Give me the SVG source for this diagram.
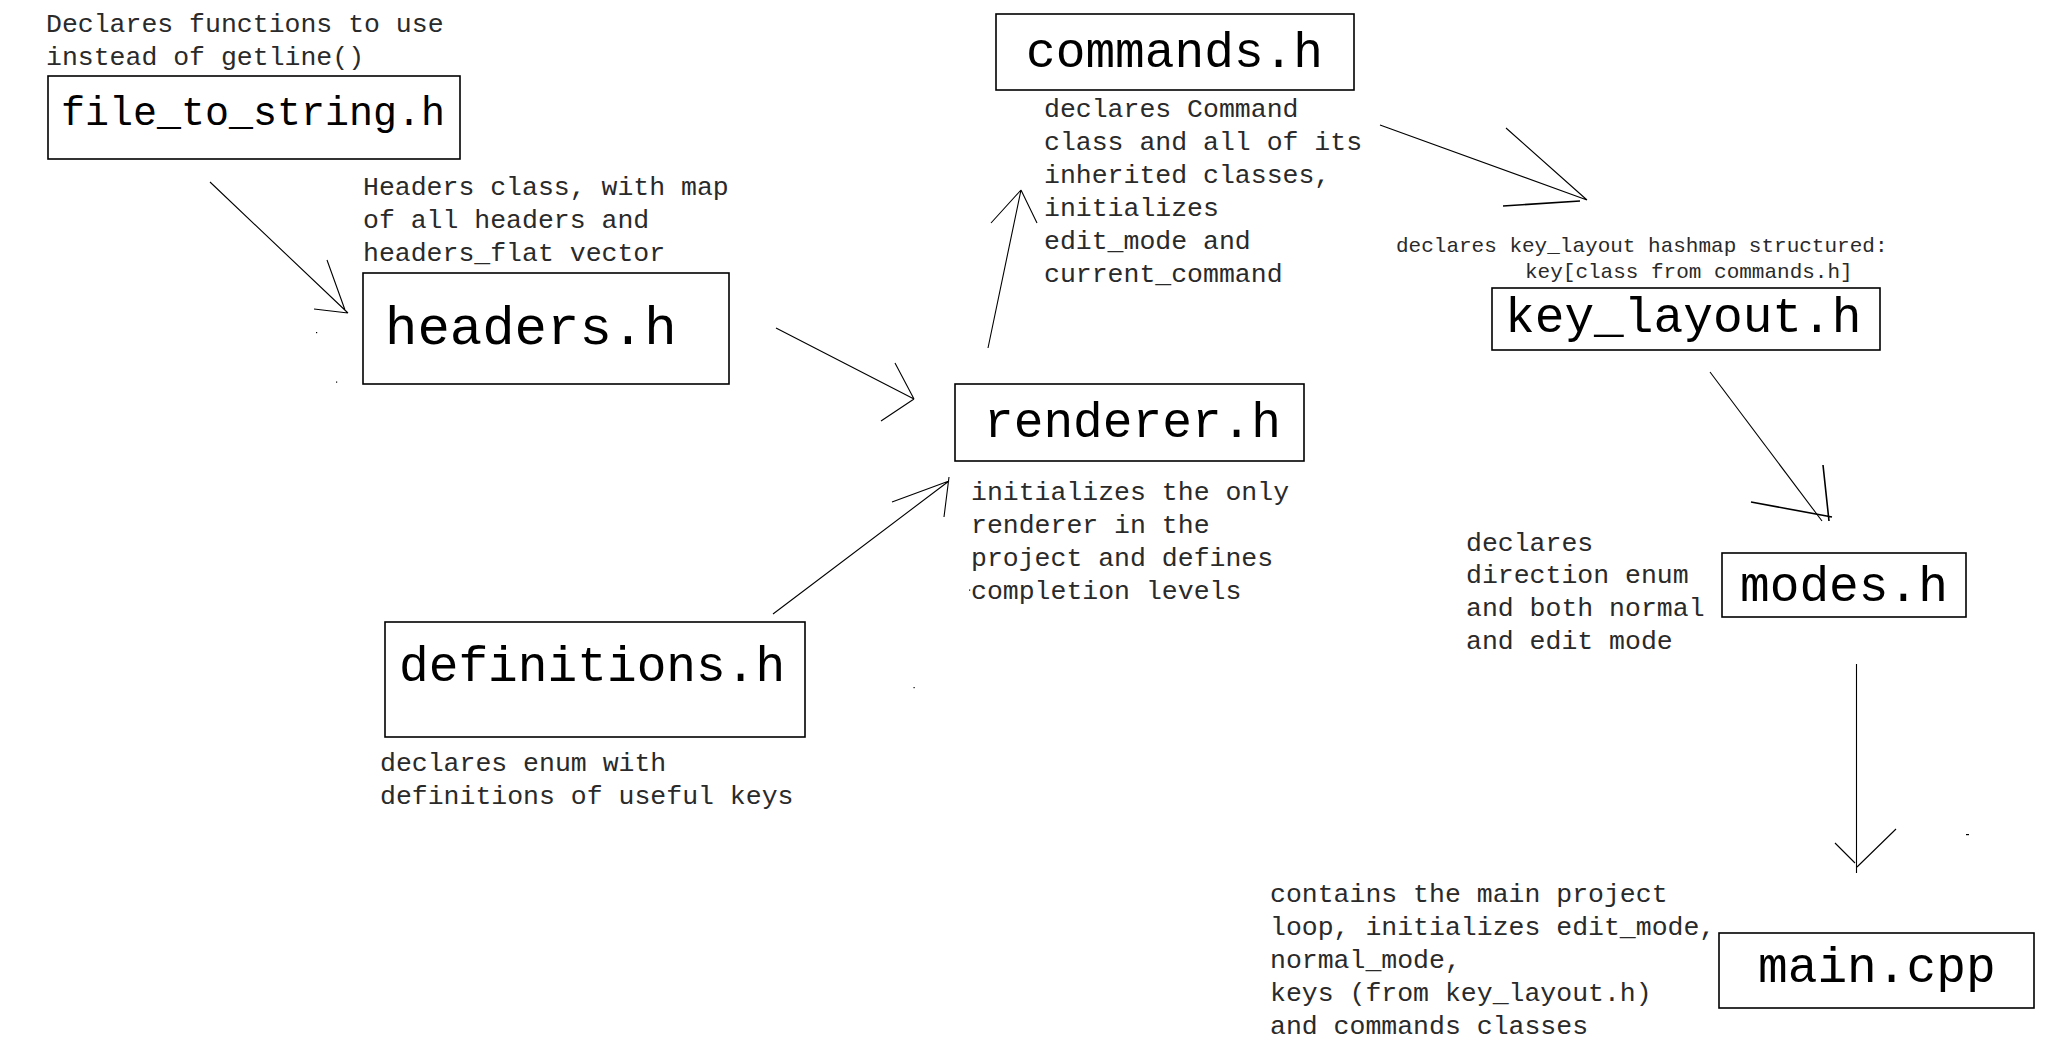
<svg xmlns="http://www.w3.org/2000/svg" width="2054" height="1058" viewBox="0 0 2054 1058">
<style>
.box{fill:#fff;stroke:#000;stroke-width:1.6}
.big{font-family:"Liberation Mono","Courier New",monospace;font-size:49.5px;fill:#000}
.small{font-family:"Liberation Mono","Courier New",monospace;font-size:26.5px;fill:#2a2a2a}
.tiny{font-family:"Liberation Mono","Courier New",monospace;font-size:21px;fill:#2a2a2a}
.ln{stroke:#000;stroke-width:1.1;fill:none}
.lnb{stroke:#000;stroke-width:1.6;fill:none}
</style>
<rect width="2054" height="1058" fill="#fff"/>
<g id="file_to_string">
<text class="small" x="46" y="31.5">Declares functions to use</text>
<text class="small" x="46" y="64.5">instead of getline()</text>
<rect class="box" x="48" y="76" width="412" height="83"/>
<text class="big" x="61" y="124.5" style="font-size:40px">file_to_string.h</text>
</g>
<g id="headers">
<text class="small" x="363" y="194.5">Headers class, with map</text>
<text class="small" x="363" y="227.5">of all headers and</text>
<text class="small" x="363" y="260.5">headers_flat vector</text>
<rect class="box" x="363" y="273" width="366" height="111"/>
<text class="big" x="385" y="343.5" style="font-size:54px">headers.h</text>
</g>
<g id="commands">
<rect class="box" x="996" y="14" width="358" height="76"/>
<text class="big" x="1026" y="67">commands.h</text>
<text class="small" x="1044" y="116.5">declares Command</text>
<text class="small" x="1044" y="149.5">class and all of its</text>
<text class="small" x="1044" y="182.5">inherited classes,</text>
<text class="small" x="1044" y="215.5">initializes</text>
<text class="small" x="1044" y="248.5">edit_mode and</text>
<text class="small" x="1044" y="281.5">current_command</text>
</g>
<g id="key_layout">
<text class="tiny" x="1396" y="252">declares key_layout hashmap structured:</text>
<text class="tiny" x="1525" y="278">key[class from commands.h]</text>
<rect class="box" x="1492" y="288" width="388" height="62"/>
<text class="big" x="1505" y="332">key_layout.h</text>
</g>
<g id="renderer">
<rect class="box" x="955" y="384" width="349" height="77"/>
<text class="big" x="984" y="436.5">renderer.h</text>
<text class="small" x="971" y="499.5">initializes the only</text>
<text class="small" x="971" y="532.5">renderer in the</text>
<text class="small" x="971" y="565.5">project and defines</text>
<text class="small" x="971" y="598.5">completion levels</text>
</g>
<g id="definitions">
<rect class="box" x="385" y="622" width="420" height="115"/>
<text class="big" x="399" y="680.5">definitions.h</text>
<text class="small" x="380" y="770.5">declares enum with</text>
<text class="small" x="380" y="803.5">definitions of useful keys</text>
</g>
<g id="modes">
<text class="small" x="1466" y="550.5">declares</text>
<text class="small" x="1466" y="582.5">direction enum</text>
<text class="small" x="1466" y="615.5">and both normal</text>
<text class="small" x="1466" y="648.5">and edit mode</text>
<rect class="box" x="1722" y="553" width="244" height="64"/>
<text class="big" x="1740" y="600.5">modes.h</text>
</g>
<g id="main">
<text class="small" x="1270" y="901.5">contains the main project</text>
<text class="small" x="1270" y="934.5">loop, initializes edit_mode,</text>
<text class="small" x="1270" y="967.5">normal_mode,</text>
<text class="small" x="1270" y="1000.5">keys (from key_layout.h)</text>
<text class="small" x="1270" y="1033.5">and commands classes</text>
<rect class="box" x="1719" y="933" width="315" height="75"/>
<text class="big" x="1758" y="981.5">main.cpp</text>
</g>
<g id="connectors">
<path class="ln" d="M210,182 L348,313 M327,260 L345,310 M314,309 L348,313"/>
<path class="ln" d="M776,328 L914,399 M895,363 L914,399 M881,421 L914,399"/>
<path class="ln" d="M773,614 L949,481 M892,502 L949,481 M944,517 L949,477"/>
<path class="ln" d="M988,348 L1021,190 M991,223 L1021,190 M1037,223 L1021,190"/>
<path class="ln" d="M1380,125 L1587,200 M1506,128 L1587,200"/>
<path class="lnb" d="M1503,206 L1580,201"/>
<path class="ln" d="M1710,372 L1822,521"/>
<path class="lnb" d="M1823,465 L1829,521 M1751,502 L1832,517"/>
<path class="ln" d="M1856.5,664 L1856.5,873 M1835,843 L1855,863 M1896,829 L1857,867"/>
<rect x="316" y="332" width="1.2" height="1.2" fill="#000"/>
<rect x="336" y="381.5" width="1.2" height="1.2" fill="#000"/>
<rect x="969" y="589.5" width="1.2" height="1.2" fill="#000"/>
<rect x="913.5" y="687" width="1.2" height="1.2" fill="#000"/>
<rect x="1966" y="834" width="3" height="1.2" fill="#000"/>
</g>
</svg>
